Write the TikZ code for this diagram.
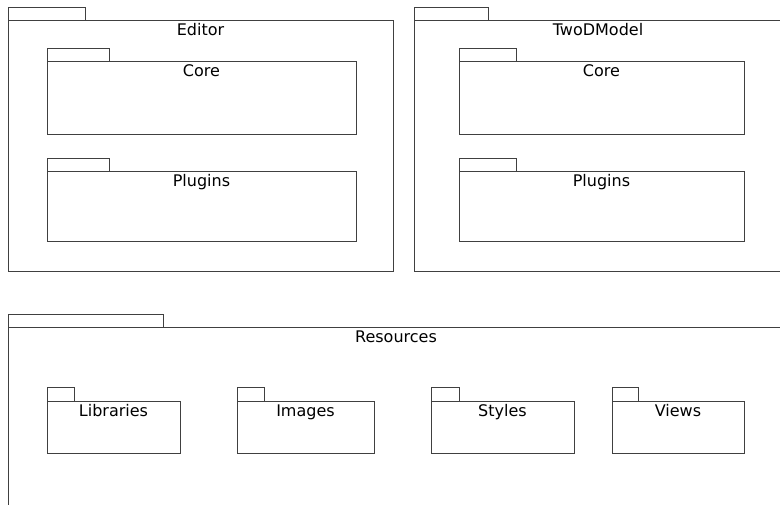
\documentclass[tikz,border=0pt]{standalone}
\usepackage{fontspec}
\setmainfont{DejaVu Sans}
\begin{document}
\begin{tikzpicture}[x=1pt,y=-1pt,
    pkgline/.style={draw=black!75, line width=0.8pt},
    pkgtitle/.style={anchor=base, inner sep=0pt, font=\fontsize{16}{19}\selectfont}]
  \useasboundingbox (0,0) rectangle (780,505);
  \clip (0,0) rectangle (780,505);
  % Editor
  \draw[pkgline] (8,7) rectangle (85,20);
  \draw[pkgline] (8,20) rectangle (393,271);
  \node[pkgtitle] (editor) at (200.5,36) {Editor};
  \draw[pkgline] (47,48) rectangle (109,61);
  \draw[pkgline] (47,61) rectangle (356,134);
  \node[pkgtitle] (editorcore) at (201.5,77) {Core};
  \draw[pkgline] (47,158) rectangle (109,171);
  \draw[pkgline] (47,171) rectangle (356,241);
  \node[pkgtitle] (editorplugins) at (201.5,187) {Plugins};
  % TwoDModel
  \draw[pkgline] (414,7) rectangle (488,20);
  \draw[pkgline] (414,20) rectangle (782,271);
  \node[pkgtitle] (twodmodel) at (598,36) {TwoDModel};
  \draw[pkgline] (459,48) rectangle (516,61);
  \draw[pkgline] (459,61) rectangle (744,134);
  \node[pkgtitle] (twodcore) at (601.5,77) {Core};
  \draw[pkgline] (459,158) rectangle (516,171);
  \draw[pkgline] (459,171) rectangle (744,241);
  \node[pkgtitle] (twodplugins) at (601.5,187) {Plugins};
  % Resources
  \draw[pkgline] (8,314) rectangle (163,327);
  \draw[pkgline] (8,327) rectangle (784,520);
  \node[pkgtitle] (resources) at (396,343) {Resources};
  \draw[pkgline] (47,387) rectangle (74,401);
  \draw[pkgline] (47,401) rectangle (180,453);
  \node[pkgtitle] (libraries) at (113.5,417) {Libraries};
  \draw[pkgline] (237,387) rectangle (264,401);
  \draw[pkgline] (237,401) rectangle (374,453);
  \node[pkgtitle] (images) at (305.5,417) {Images};
  \draw[pkgline] (431,387) rectangle (459,401);
  \draw[pkgline] (431,401) rectangle (574,453);
  \node[pkgtitle] (styles) at (502.5,417) {Styles};
  \draw[pkgline] (612,387) rectangle (638,401);
  \draw[pkgline] (612,401) rectangle (744,453);
  \node[pkgtitle] (views) at (678,417) {Views};
\end{tikzpicture}
\end{document}
